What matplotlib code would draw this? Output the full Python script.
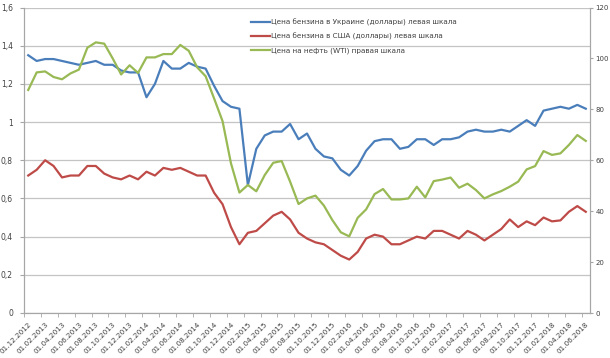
import matplotlib
matplotlib.use('Agg')
import matplotlib.pyplot as plt
import numpy as np
import pandas as pd

# monthly dates 01.12.2012 .. 01.06.2018
dates = pd.date_range('2012-12-01', '2018-06-01', freq='MS')
labels = [d.strftime('%d.%m.%Y') for d in dates]

ukraine = [1.35, 1.32, 1.33, 1.33, 1.32, 1.31, 1.30, 1.31, 1.32, 1.30,
           1.30, 1.27, 1.26, 1.26, 1.13, 1.20, 1.32, 1.28, 1.28, 1.31,
           1.29, 1.28, 1.19, 1.11, 1.08, 1.07, 0.67, 0.86, 0.93, 0.95,
           0.95, 0.99, 0.91, 0.94, 0.86, 0.82, 0.81, 0.75, 0.72, 0.77,
           0.85, 0.90, 0.91, 0.91, 0.86, 0.87, 0.91, 0.91, 0.88, 0.91,
           0.91, 0.92, 0.95, 0.96, 0.95, 0.95, 0.96, 0.95, 0.98, 1.01,
           0.98, 1.06, 1.07, 1.08, 1.07, 1.09, 1.07]

usa = [0.72, 0.75, 0.80, 0.77, 0.71, 0.72, 0.72, 0.77, 0.77, 0.73,
       0.71, 0.70, 0.72, 0.70, 0.74, 0.72, 0.76, 0.75, 0.76, 0.74,
       0.72, 0.72, 0.63, 0.57, 0.45, 0.36, 0.42, 0.43, 0.47, 0.51,
       0.53, 0.49, 0.42, 0.39, 0.37, 0.36, 0.33, 0.30, 0.28, 0.32,
       0.39, 0.41, 0.40, 0.36, 0.36, 0.38, 0.40, 0.39, 0.43, 0.43,
       0.41, 0.39, 0.43, 0.41, 0.38, 0.41, 0.44, 0.49, 0.45, 0.48,
       0.46, 0.50, 0.48, 0.485, 0.53, 0.56, 0.53]

wti = [87.6, 94.5, 94.9, 92.7, 91.8, 94.1, 95.6, 104.2, 106.3, 105.8,
       100.0, 93.7, 97.3, 94.3, 100.4, 100.4, 101.7, 101.7, 105.3, 103.0,
       96.5, 93.0, 84.3, 75.4, 58.8, 47.3, 50.3, 47.8, 54.2, 59.0,
       59.7, 51.6, 42.8, 45.0, 46.1, 42.2, 36.5, 31.7, 30.1, 37.4,
       40.7, 46.7, 48.7, 44.6, 44.6, 45.0, 49.6, 45.4, 51.8, 52.4,
       53.2, 49.2, 50.8, 48.3, 45.0, 46.6, 47.9, 49.6, 51.6, 56.4,
       57.7, 63.6, 62.1, 62.7, 66.0, 69.9, 67.6]

names = ['Цена бензина в Украине (доллары) левая шкала',
         'Цена бензина в США (доллары) левая шкала',
         'Цена на нефть (WTI) правая шкала']

x = np.arange(len(dates))
grey = '#a6a6a6'
txt = '#404040'

fig = plt.figure(figsize=(6.1, 3.58), dpi=100)
ax = fig.add_axes([24/610, 1-313/358, (590-24)/610, (313-7.5)/358])
ax2 = ax.twinx()

l1, = ax.plot(x, ukraine, color='#4a7ebb', lw=1.6)
l2, = ax.plot(x, usa, color='#be4b48', lw=1.6)
l3, = ax2.plot(x, wti, color='#98b954', lw=1.6)

ax.set_xlim(-0.5, len(x) - 0.5)
ax.set_ylim(0, 1.6)
ax2.set_ylim(0, 120)

yt = np.arange(0, 1.61, 0.2)
ax.set_yticks(yt)
ax.set_yticklabels([('%g' % round(v, 1)).replace('.', ',') for v in yt])
ax2.set_yticks(np.arange(0, 121, 20))
ax.grid(axis='y', color='#c4c4c4', lw=0.9)
ax.set_axisbelow(True)

ax.set_xticks(x[::2])
ax.set_xticklabels(labels[::2], rotation=45, ha='right', rotation_mode='anchor')
ax.set_xticks(x[::2] - 0.5, minor=True)
ax.tick_params(axis='x', which='major', length=0, pad=6, labelsize=5.2, colors=txt)
ax.tick_params(axis='x', which='minor', length=3, color=grey)
ax.tick_params(axis='y', length=3, color=grey, labelsize=5.5, labelcolor=txt, pad=5)
ax2.tick_params(axis='y', length=2.5, color=grey, labelsize=5, labelcolor=txt, pad=1.5)

for a in (ax, ax2):
    for s in a.spines.values():
        s.set_color(grey)
    a.spines['top'].set_visible(False)

leg = ax.legend([l1, l2, l3], names, loc='upper left', bbox_to_anchor=(0.39, 0.985),
                frameon=False, fontsize=5.2, handlelength=2.6, labelspacing=1.0,
                handletextpad=0.1)
for t in leg.get_texts():
    t.set_color(txt)

fig.savefig('out.png', dpi=100)
